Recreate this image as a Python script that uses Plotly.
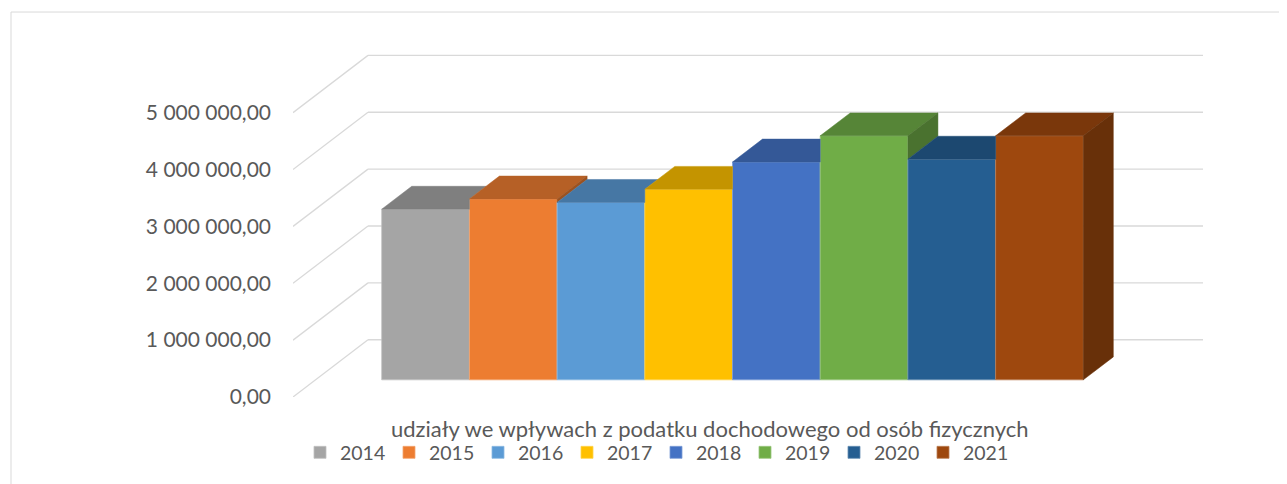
import plotly.graph_objects as go

# ---------------- data ----------------
years = ["2014", "2015", "2016", "2017", "2018", "2019", "2020", "2021"]
values = [3000000, 3180000, 3120000, 3350000, 3830000, 4290000, 3880000, 4290000]
front_colors = ["#A5A5A5", "#ED7D31", "#5B9BD5", "#FFC000",
                "#4472C4", "#70AD47", "#255E91", "#9E480E"]
tick_values = [0, 1000000, 2000000, 3000000, 4000000, 5000000]
tick_labels = ["0,00", "1 000 000,00", "2 000 000,00", "3 000 000,00",
               "4 000 000,00", "5 000 000,00"]
category_label = "udziały we wpływach z podatku dochodowego od osób fizycznych"

# ---------------- geometry of the oblique 3D look ----------------
W, H = 1287, 484
OFF = 8                          # page body margin of the html output
# plot area in page pixels
P_LEFT, P_RIGHT, P_TOP, P_BOTTOM = 293, 1203, 40, 397.3
M_L = P_LEFT - OFF
M_R = W - (P_RIGHT - OFF)
M_T = P_TOP - OFF
M_B = H - (P_BOTTOM - OFF)
pw = W - M_L - M_R
ph = H - M_T - M_B

PX_PER_X = 87.7                  # pixels per bar width
PX_PER_VAL = 56.92 / 1e6         # pixels per unit value
X_LEFT = -0.755                  # floor left edge (front)
X_RIGHT = X_LEFT + pw / PX_PER_X
Y_TOP = ph / PX_PER_VAL
DEPTH_X = 75 / PX_PER_X          # full-depth shift in x units
DEPTH_Y = 57.3 / PX_PER_VAL      # full-depth shift in value units
BAR_D0, BAR_D = 0.3, 0.4         # bar depth start and thickness (fractions)

FONT = "Lato, 'Open Sans', sans-serif"
TXT = "#595959"
GRID = "#D9D9D9"


def px_x(page_x):
    return (page_x - P_LEFT) / pw


def px_y(page_y):
    return (P_BOTTOM - page_y) / ph


def shade(hex_color, k):
    h = hex_color.lstrip("#")
    r, g, b = (int(h[i:i + 2], 16) for i in (0, 2, 4))
    return "#%02X%02X%02X" % (round(r * k), round(g * k), round(b * k))


def tint(hex_color, k):
    h = hex_color.lstrip("#")
    r, g, b = (int(h[i:i + 2], 16) for i in (0, 2, 4))
    return "#%02X%02X%02X" % tuple(round(c + (255 - c) * k) for c in (r, g, b))


fig = go.Figure()

base = BAR_D0 * DEPTH_Y
dxb = BAR_D * DEPTH_X
dyb = BAR_D * DEPTH_Y
n = len(values)

# front faces as real bars
for i, (yr, v, c) in enumerate(zip(years, values, front_colors)):
    fig.add_trace(go.Bar(
        x=[i + 0.5 + BAR_D0 * DEPTH_X], y=[v], base=base, width=1,
        marker=dict(color=c, line=dict(width=0.8, color=tint(c, 0.3))), name=yr,
        hovertemplate=yr + ": %{y:,.2f}<extra></extra>",
    ))

# top and right faces (only the visible parts)
for i, (v, c) in enumerate(zip(values, front_colors)):
    xf0 = i + BAR_D0 * DEPTH_X
    xf1 = xf0 + 1
    yt = base + v
    last = i == n - 1
    ytn = None if last else base + values[i + 1]
    if not last and ytn > yt:
        if ytn < yt + dyb:
            xs = [xf0, xf1, xf1, xf1 + dxb * (yt + dyb - ytn) / dyb, xf0 + dxb, xf0]
            ys = [yt, yt, ytn, yt + dyb, yt + dyb, yt]
        else:
            xs = [xf0, xf1, xf1, xf0 + dxb, xf0]
            ys = [yt, yt, yt + dyb, yt + dyb, yt]
    else:
        xs = [xf0, xf1, xf1 + dxb, xf0 + dxb, xf0]
        ys = [yt, yt, yt + dyb, yt + dyb, yt]
    tc = shade(c, 0.77)
    fig.add_trace(go.Scatter(x=xs, y=ys, fill="toself", mode="lines",
                             fillcolor=tc, line=dict(width=0.5, color=tc),
                             showlegend=False, hoverinfo="skip"))
    lo = base if last else (ytn if ytn < yt else None)
    if lo is not None:
        sc = shade(c, 0.66)
        fig.add_trace(go.Scatter(
            x=[xf1, xf1, xf1 + dxb, xf1 + dxb, xf1],
            y=[lo, yt, yt + dyb, lo + dyb, lo],
            fill="toself", mode="lines", fillcolor=sc,
            line=dict(width=0.5, color=sc), showlegend=False, hoverinfo="skip"))

# gridlines on the side wall and back wall
shapes = []
for tv in tick_values:
    shapes.append(dict(type="line", xref="x", yref="y", layer="below",
                       x0=X_LEFT, y0=tv, x1=X_LEFT + DEPTH_X, y1=tv + DEPTH_Y,
                       line=dict(color=GRID, width=1.3)))
    shapes.append(dict(type="line", xref="x", yref="y", layer="below",
                       x0=X_LEFT + DEPTH_X, y0=tv + DEPTH_Y, x1=X_RIGHT, y1=tv + DEPTH_Y,
                       line=dict(color=GRID, width=1.3)))
# chart border
shapes.append(dict(type="rect", xref="paper", yref="paper", layer="below",
                   x0=px_x(11), x1=px_x(W + 30), y0=px_y(H + 30), y1=px_y(12),
                   line=dict(color=GRID, width=1), fillcolor="rgba(0,0,0,0)"))

fig.update_layout(
    width=W, height=H,
    margin=dict(l=M_L, r=M_R, t=M_T, b=M_B, pad=0),
    paper_bgcolor="white", plot_bgcolor="white",
    barmode="overlay",
    shapes=shapes,
    xaxis=dict(range=[X_LEFT, X_RIGHT], visible=False, fixedrange=True),
    yaxis=dict(range=[0, Y_TOP], tickvals=tick_values, ticktext=tick_labels,
               showgrid=False, zeroline=False, showline=False,
               ticks="", ticklabelstandoff=21, fixedrange=True,
               tickfont=dict(family=FONT, size=21, color=TXT)),
    showlegend=True,
    legend=dict(orientation="h", x=px_x(300), xanchor="left",
                y=px_y(453), yanchor="middle",
                entrywidth=44, entrywidthmode="pixels",
                font=dict(family=FONT, size=19.5, color=TXT),
                bgcolor="rgba(0,0,0,0)", traceorder="normal"),
    annotations=[dict(text=category_label, xref="paper", yref="paper",
                      x=px_x(709.5), y=px_y(428.5),
                      xanchor="center", yanchor="middle", showarrow=False,
                      font=dict(family=FONT, size=22, color=TXT))],
)

fig.write_html("out.html")
